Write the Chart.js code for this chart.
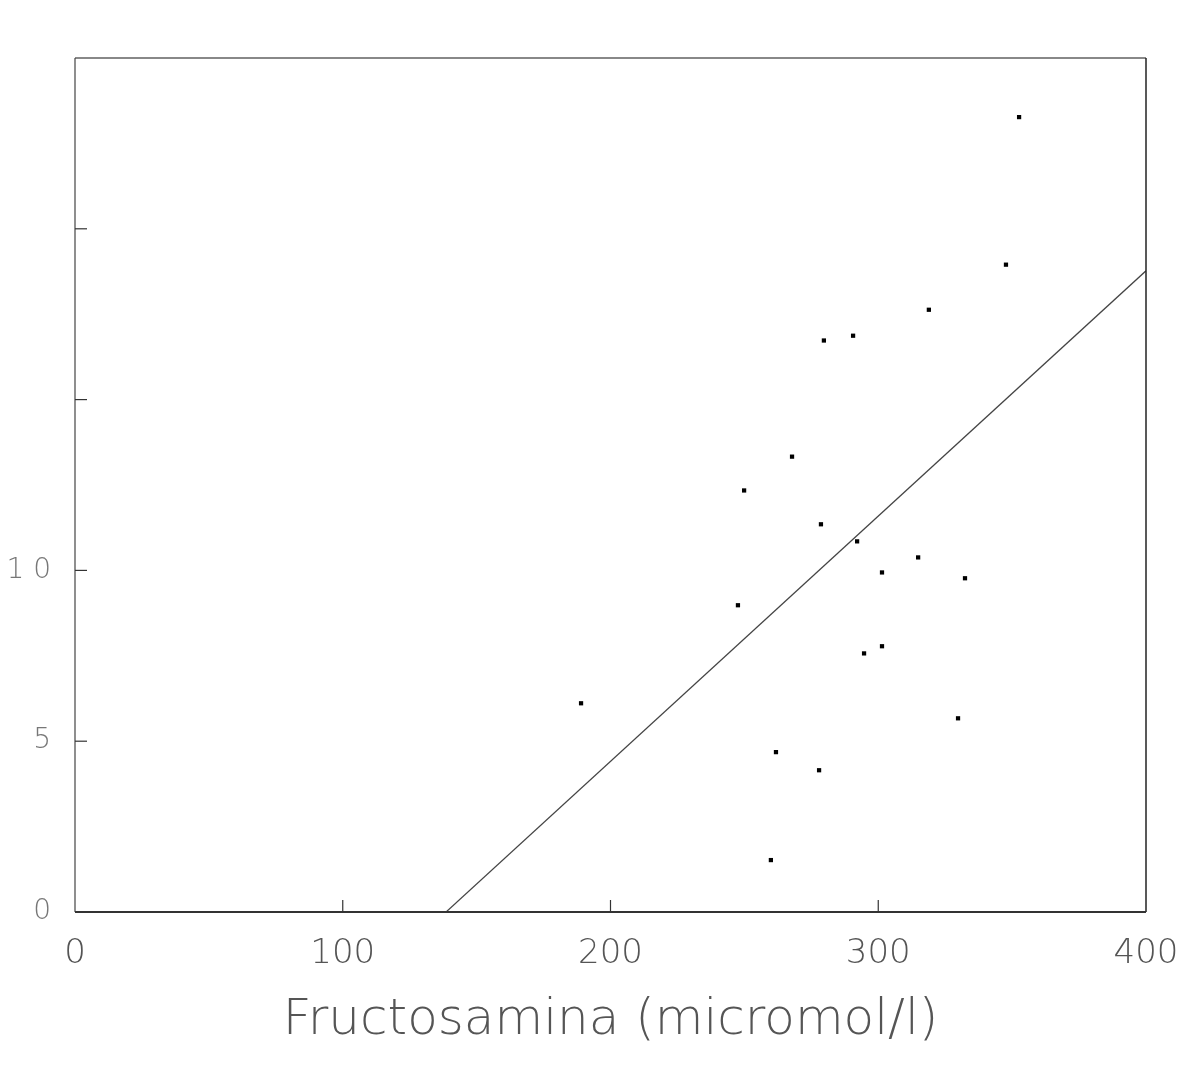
<!DOCTYPE html>
<html>
<head>
<meta charset="utf-8">
<script src="https://cdn.jsdelivr.net/npm/chart.js@4/dist/chart.umd.min.js"></script>
<style>
html,body{margin:0;padding:0;background:#fff;}
#wrap{width:1191px;height:1065px;position:relative;}
</style>
</head>
<body>
<div id="wrap"><canvas id="c" width="1191" height="1065"></canvas></div>
<script>
// Fructosamina (micromol/l) values
const fructosamina = [352.6, 347.7, 318.9, 290.6, 279.7, 267.8, 249.9, 278.6, 292.1, 314.9,
                      301.4, 332.4, 247.6, 301.4, 294.7, 189.0, 329.8, 261.8, 277.9, 259.9];
// y values
const yValues = [23.27, 18.95, 17.63, 16.87, 16.73, 13.33, 12.34, 11.35, 10.85, 10.38,
                 9.94, 9.77, 8.98, 7.78, 7.57, 6.11, 5.67, 4.68, 4.15, 1.52];
// regression line end points
const lineX = [138.6, 400];
const lineY = [0, 18.77];
// axis ticks
const xTicks = [0, 100, 200, 300, 400];
const yTicks = [0, 5, 10, 15, 20, 25];
const yTickLabels = ['0', '5', '1 0', '', '', ''];
const xTitle = 'Fructosamina (micromol/l)';

const scatterData = fructosamina.map((x, i) => ({x: x, y: yValues[i]}));
const lineData = lineX.map((x, i) => ({x: x, y: lineY[i]}));

const framePlugin = {
  id: 'frame',
  afterDatasetsDraw(chart) {
    const {ctx, chartArea: a, scales} = chart;
    ctx.save();
    ctx.strokeStyle = '#888';
    ctx.lineWidth = 2;
    ctx.beginPath(); ctx.moveTo(a.left, a.top); ctx.lineTo(a.right, a.top); ctx.stroke();
    ctx.strokeStyle = '#222';
    ctx.lineWidth = 1.5;
    ctx.beginPath(); ctx.moveTo(a.right, a.top); ctx.lineTo(a.right, a.bottom); ctx.stroke();
    ctx.strokeStyle = '#444';
    ctx.lineWidth = 1.2;
    ctx.beginPath(); ctx.moveTo(a.left, a.top); ctx.lineTo(a.left, a.bottom); ctx.stroke();
    ctx.strokeStyle = '#333';
    ctx.lineWidth = 2;
    ctx.beginPath(); ctx.moveTo(a.left, a.bottom); ctx.lineTo(a.right, a.bottom); ctx.stroke();
    ctx.strokeStyle = '#333';
    ctx.lineWidth = 1.2;
    const tl = 12;
    xTicks.forEach(v => {
      if (v <= 0 || v >= 400) return;
      const px = scales.x.getPixelForValue(v);
      ctx.beginPath(); ctx.moveTo(px, a.bottom); ctx.lineTo(px, a.bottom - tl); ctx.stroke();
    });
    yTicks.forEach(v => {
      if (v <= 0 || v >= 25) return;
      const py = scales.y.getPixelForValue(v);
      ctx.beginPath(); ctx.moveTo(a.left, py); ctx.lineTo(a.left + tl, py); ctx.stroke();
    });
    ctx.restore();
  }
};

new Chart(document.getElementById('c'), {
  type: 'scatter',
  data: {
    datasets: [
      {
        label: 'datos',
        data: scatterData,
        pointStyle: 'rect',
        pointRadius: 3,
        pointBackgroundColor: '#000',
        pointBorderColor: '#000',
        pointBorderWidth: 0,
        showLine: false
      },
      {
        label: 'regresión',
        data: lineData,
        showLine: true,
        borderColor: '#444',
        borderWidth: 1.2,
        pointRadius: 0,
        fill: false
      }
    ]
  },
  options: {
    responsive: false,
    animation: false,
    devicePixelRatio: 1,
    layout: {padding: {left: 0, right: 45, top: 58, bottom: 0}},
    plugins: {
      legend: {display: false},
      tooltip: {enabled: false}
    },
    scales: {
      x: {
        type: 'linear',
        min: 0, max: 400,
        afterBuildTicks(scale) { scale.ticks = xTicks.map(v => ({value: v})); },
        afterFit(scale) { scale.height = 153; scale.paddingLeft = 0; scale.paddingRight = 0; },
        grid: {display: false, drawTicks: false},
        border: {display: false},
        ticks: {
          padding: 22,
          color: '#555',
          font: {family: 'DejaVu Sans', size: 34, weight: 200},
          callback: (v) => String(v)
        },
        title: {
          display: true,
          text: xTitle,
          color: '#555',
          font: {family: 'DejaVu Sans', size: 50, weight: 200},
          padding: {top: 0, bottom: 14}
        }
      },
      y: {
        type: 'linear',
        min: 0, max: 25,
        afterBuildTicks(scale) { scale.ticks = yTicks.map(v => ({value: v})); },
        afterFit(scale) { scale.width = 75; scale.paddingTop = 0; scale.paddingBottom = 0; },
        grid: {display: false, drawTicks: false},
        border: {display: false},
        ticks: {
          padding: 24,
          color: '#777',
          font: {family: 'DejaVu Sans', size: 28, weight: 200},
          callback: (v) => { const i = yTicks.indexOf(v); return i >= 0 ? yTickLabels[i] : ''; }
        }
      }
    }
  },
  plugins: [framePlugin]
});
</script>
</body>
</html>
